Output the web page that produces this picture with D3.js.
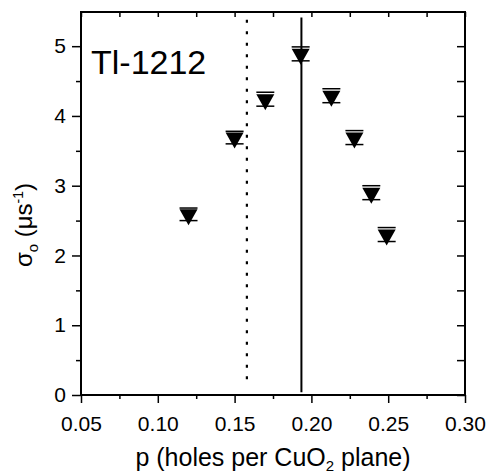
<!DOCTYPE html>
<html>
<head>
<meta charset="utf-8">
<script src="https://cdn.jsdelivr.net/npm/d3@7"></script>
<style>
  body { margin: 0; background: #fff; }
  svg text { font-family: "Liberation Sans", Arial, Helvetica, sans-serif; fill: #000; }
</style>
</head>
<body>
<div id="chart"></div>
<script>
// data
const pVals = [0.120, 0.150, 0.170, 0.193, 0.213, 0.228, 0.239, 0.249];
const sigma = [2.59, 3.69, 4.24, 4.89, 4.29, 3.69, 2.90, 2.30];
const sigmaErr = [0.09, 0.09, 0.10, 0.10, 0.10, 0.10, 0.10, 0.10];

const xTicks = [0.05, 0.10, 0.15, 0.20, 0.25, 0.30];
const xTickLabels = ["0.05", "0.10", "0.15", "0.20", "0.25", "0.30"];
const xMinor = [0.075, 0.125, 0.175, 0.225, 0.275];
const yTicks = [0, 1, 2, 3, 4, 5];
const yMinor = [0.5, 1.5, 2.5, 3.5, 4.5];

const dottedLine = { p: 0.158, y0: 0.16, y1: 5.38 };
const solidLine = { p: 0.1935, y0: 0.04, y1: 5.41 };

const width = 489, height = 476;
const margin = { top: 12, right: 24, bottom: 81, left: 81 };

const svg = d3.select("#chart")
  .append("svg")
  .attr("width", width)
  .attr("height", height);

const x = d3.scaleLinear()
  .domain([0.05, 0.30])
  .range([margin.left, width - margin.right]);

const y = d3.scaleLinear()
  .domain([0, 5.49])
  .range([height - margin.bottom, margin.top]);

const data = pVals.map((p, i) => ({ p: p, s: sigma[i], e: sigmaErr[i] }));

// ticks: outward on bottom/left, inward on top/right
const tickStyle = g => {
  g.selectAll(".domain").remove();
  g.selectAll(".tick line").attr("stroke", "#000").attr("stroke-width", 1.5);
};

svg.append("g")
  .attr("transform", `translate(0,${y(0)})`)
  .call(d3.axisBottom(x).tickValues(xTicks).tickSize(8).tickPadding(13)
    .tickFormat((d, i) => xTickLabels[i]))
  .call(tickStyle)
  .call(g => g.selectAll("text").attr("font-size", 21));

svg.append("g")
  .attr("transform", `translate(0,${y(0)})`)
  .call(d3.axisBottom(x).tickValues(xMinor).tickSize(4).tickFormat(""))
  .call(tickStyle);

svg.append("g")
  .attr("transform", `translate(${x(0.05)},0)`)
  .call(d3.axisLeft(y).tickValues(yTicks).tickSize(9).tickPadding(6).tickFormat(d3.format("d")))
  .call(tickStyle)
  .call(g => g.selectAll("text").attr("font-size", 21));

svg.append("g")
  .attr("transform", `translate(${x(0.05)},0)`)
  .call(d3.axisLeft(y).tickValues(yMinor).tickSize(5).tickFormat(""))
  .call(tickStyle);

svg.append("g")
  .attr("transform", `translate(0,${y.range()[1]})`)
  .call(d3.axisTop(x).tickValues(xTicks.concat(xMinor)).tickSize(-5).tickFormat(""))
  .call(tickStyle);

svg.append("g")
  .attr("transform", `translate(${x(0.30)},0)`)
  .call(d3.axisRight(y).tickValues(yTicks.concat(yMinor)).tickSize(-8).tickFormat(""))
  .call(tickStyle);

// frame
svg.append("rect")
  .attr("x", x(0.05))
  .attr("y", y.range()[1])
  .attr("width", x(0.30) - x(0.05))
  .attr("height", y(0) - y.range()[1])
  .attr("fill", "none")
  .attr("stroke", "#000")
  .attr("stroke-width", 2);

// vertical reference lines
svg.append("line")
  .attr("x1", x(dottedLine.p)).attr("x2", x(dottedLine.p))
  .attr("y1", y(dottedLine.y1)).attr("y2", y(dottedLine.y0))
  .attr("stroke", "#000")
  .attr("stroke-width", 2.2)
  .attr("stroke-dasharray", "3,8.5");

svg.append("line")
  .attr("x1", x(solidLine.p)).attr("x2", x(solidLine.p))
  .attr("y1", y(solidLine.y1)).attr("y2", y(solidLine.y0))
  .attr("stroke", "#000")
  .attr("stroke-width", 2);

// down triangle marker
const downTri = {
  draw(ctx) {
    ctx.moveTo(-9, -5);
    ctx.lineTo(9, -5);
    ctx.lineTo(0, 11);
    ctx.closePath();
  }
};

const pts = svg.append("g")
  .selectAll("g")
  .data(data)
  .join("g");

pts.append("path")
  .attr("transform", d => `translate(${x(d.p)},${y(d.s)})`)
  .attr("d", d3.symbol().type(downTri))
  .attr("fill", "#000");

pts.append("line")
  .attr("x1", d => x(d.p) - 9).attr("x2", d => x(d.p) + 9)
  .attr("y1", d => y(d.s + d.e)).attr("y2", d => y(d.s + d.e))
  .attr("stroke", "#000").attr("stroke-width", 1.5);

pts.append("line")
  .attr("x1", d => x(d.p) - 9).attr("x2", d => x(d.p) + 9)
  .attr("y1", d => y(d.s - d.e)).attr("y2", d => y(d.s - d.e))
  .attr("stroke", "#000").attr("stroke-width", 1.5);

// sample label
svg.append("text")
  .attr("x", 91)
  .attr("y", 74)
  .attr("font-size", 34)
  .text("Tl-1212");

// axis titles
const xt = svg.append("text")
  .attr("x", (x(0.05) + x(0.30)) / 2)
  .attr("y", 466)
  .attr("text-anchor", "middle")
  .attr("font-size", 25);
xt.append("tspan").text("p (holes per CuO");
xt.append("tspan").attr("font-size", 15).attr("dy", 5).text("2");
xt.append("tspan").attr("dy", -5).text(" plane)");

const yt = svg.append("text")
  .attr("transform", "translate(32,225) rotate(-90)")
  .attr("text-anchor", "middle")
  .attr("font-size", 24);
yt.append("tspan").text("σ");
yt.append("tspan").attr("font-size", 15).attr("dy", 6).text("o");
yt.append("tspan").attr("dy", -6).text(" (μs");
yt.append("tspan").attr("font-size", 14).attr("dy", -9).text("-1");
yt.append("tspan").attr("dy", 9).text(")");
</script>
</body>
</html>
